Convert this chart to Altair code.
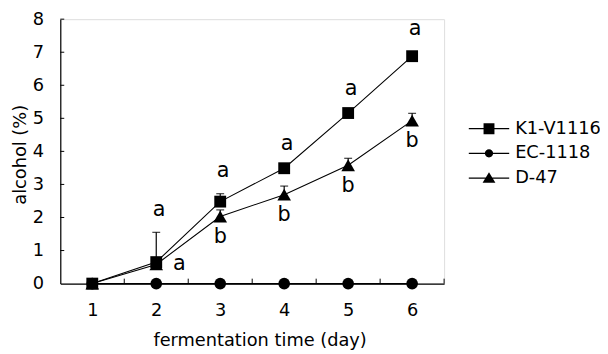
import altair as alt
import pandas as pd

# ---- data ----
days = [1, 2, 3, 4, 5, 6]
strains = ["K1-V1116", "EC-1118", "D-47"]
k1_values = [0.0, 0.65, 2.48, 3.49, 5.16, 6.88]
k1_errors = [0.0, 0.90, 0.24, 0.05, 0.05, 0.12]
ec_values = [0.0, 0.0, 0.0, 0.0, 0.0, 0.0]
ec_errors = [0.0, 0.0, 0.0, 0.0, 0.0, 0.0]
d47_values = [0.0, 0.58, 2.03, 2.69, 3.58, 4.93]
d47_errors = [0.0, 0.05, 0.20, 0.26, 0.21, 0.22]
k1_letters = ["", "a", "a", "a", "a", "a"]
ec_letters = ["", "", "", "", "", ""]
d47_letters = ["", "a", "b", "b", "b", "b"]
y_ticks = [0, 1, 2, 3, 4, 5, 6, 7, 8]
x_tick_marks = [1.5, 2.5, 3.5, 4.5, 5.5, 6.5]

rows = []
for name, vals, errs, lets in [
    ("K1-V1116", k1_values, k1_errors, k1_letters),
    ("EC-1118", ec_values, ec_errors, ec_letters),
    ("D-47", d47_values, d47_errors, d47_letters),
]:
    for d, v, e, l in zip(days, vals, errs, lets):
        rows.append({"day": d, "strain": name, "value": v, "err": e,
                     "top": v + e, "letter": l})
df = pd.DataFrame(rows)

FONT = "DejaVu Sans"
W, H = 389, 268

x_scale = alt.Scale(domain=[0.5, 6.5], nice=False, zero=False)
y_scale = alt.Scale(domain=[0, 8], nice=False)

x_axis = alt.Axis(values=days, format="d", ticks=False, tickSize=0, grid=False,
                  domainColor="black", domainWidth=1.2, labelFlush=False,
                  labelFontSize=18, labelColor="black", labelFont=FONT,
                  labelPadding=18, title="fermentation time (day)",
                  titleFontSize=18, titleFontWeight="normal", titleColor="black",
                  titleFont=FONT, titleX=202, titleY=63,
                  titleBaseline="alphabetic", titleAlign="center")
y_axis = alt.Axis(values=y_ticks, ticks=False, tickSize=0, grid=False,
                  domainColor="black", domainWidth=1.2, labelFlush=False,
                  labelFontSize=18, labelColor="black", labelFont=FONT,
                  labelPadding=17, title="alcohol (%)",
                  titleFontSize=18, titleFontWeight="normal", titleColor="black",
                  titleFont=FONT, titleX=-35, titleY=137,
                  titleBaseline="alphabetic", titleAlign="center")


def X(field):
    return alt.X(f"{field}:Q", scale=x_scale, axis=x_axis)


def Y(field):
    return alt.Y(f"{field}:Q", scale=y_scale, axis=y_axis)


base = alt.Chart(df)

lines = base.mark_line(color="black", strokeWidth=1.1).encode(
    x=X("day"), y=Y("value"), detail="strain:N")

err_rule = base.transform_filter("datum.err > 0").mark_rule(
    color="black", strokeWidth=1.2).encode(x=X("day"), y=Y("value"), y2="top:Q")
err_cap = base.transform_filter("datum.err > 0").mark_tick(
    color="black", orient="horizontal", size=8, thickness=1.3).encode(
    x=X("day"), y=Y("top"))

shape_of = {"K1-V1116": ("square", 144), "EC-1118": ("circle", 140),
            "D-47": ("triangle-up", 190)}
point_layers = []
for s in strains:
    shp, sz = shape_of[s]
    point_layers.append(
        base.transform_filter(f"datum.strain == '{s}'").mark_point(
            filled=True, opacity=1, color="black", shape=shp, size=sz).encode(
            x=X("day"), y=Y("value")))

txt = dict(color="black", font=FONT, fontSize=21, baseline="middle", align="center")
above = base.transform_filter("datum.strain == 'K1-V1116' && datum.day >= 2").mark_text(
    dy=-23, dx=3, **txt).encode(x=X("day"), y=Y("top"), text="letter:N")
below = base.transform_filter("datum.strain == 'D-47' && datum.day >= 3").mark_text(
    dy=21, **txt).encode(x=X("day"), y=Y("value"), text="letter:N")
side = base.transform_filter("datum.strain == 'D-47' && datum.day == 2").mark_text(
    dx=23.5, **txt).encode(x=X("day"), y=Y("value"), text="letter:N")

# inward tick marks
ytick = alt.Chart(pd.DataFrame({"v": y_ticks[1:]})).mark_rule(
    color="black", strokeWidth=1).encode(y=Y("v"), x=alt.value(0), x2=alt.value(4))
xtick = alt.Chart(pd.DataFrame({"t": x_tick_marks})).mark_rule(
    color="black", strokeWidth=1).encode(x=X("t"), y=alt.value(H), y2=alt.value(H - 5))

# legend: line-with-marker symbols
legend_paths = [
    "M-3.15,-0.1H3.15V0.1H-3.15Z M-0.85,-0.85H0.85V0.85H-0.85Z",
    "M-3.15,-0.1H3.15V0.1H-3.15Z M-0.65,0A0.65,0.65 0 1,1 0.65,0A0.65,0.65 0 1,1 -0.65,0Z",
    "M-3.15,-0.1H3.15V0.1H-3.15Z M0,-0.9L1.0,0.75H-1.0Z",
]
legend_layer = base.transform_filter("false").mark_point(
    filled=True, color="black", opacity=1).encode(
    x=X("day"), y=Y("value"),
    shape=alt.Shape("strain:N", scale=alt.Scale(domain=strains, range=legend_paths),
                    legend=alt.Legend(title=None, orient="none", legendX=425.5,
                                      legendY=102, padding=0, symbolSize=169,
                                      symbolStrokeWidth=0, symbolFillColor="black",
                                      symbolOpacity=1, labelFontSize=18,
                                      labelFont=FONT, labelColor="black",
                                      labelOffset=17.5, rowPadding=7,
                                      labelLimit=200)))

chart = alt.layer(lines, err_rule, err_cap, *point_layers, above, below, side,
                  ytick, xtick, legend_layer).properties(
    width=W, height=H,
    autosize=alt.AutoSizeParams(type="none"),
    padding={"left": 53, "top": 9, "right": 158, "bottom": 66},
).configure_view(stroke=None).configure(font=FONT)

chart.save("out.html", embed_options={"renderer": "svg", "actions": False})
